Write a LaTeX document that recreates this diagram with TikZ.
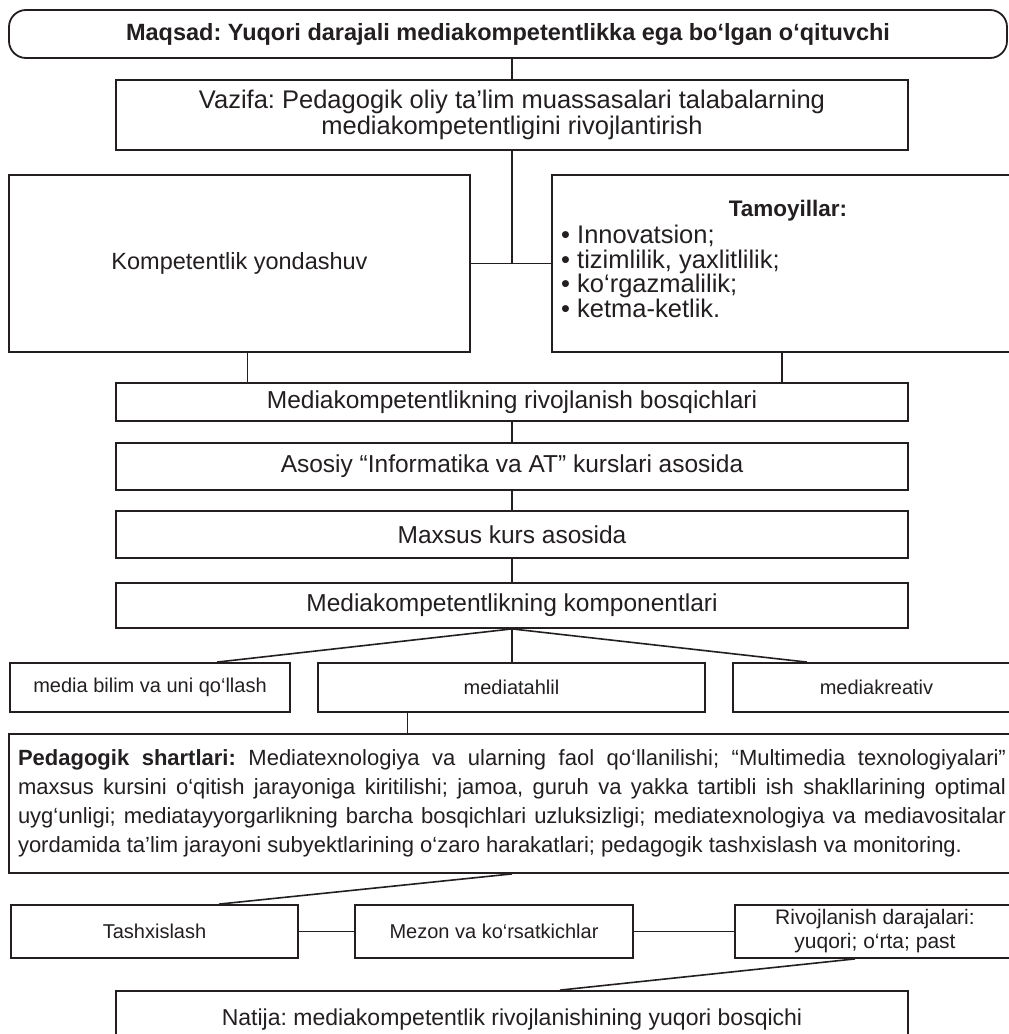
\documentclass[tikz,border=0pt]{standalone}
\usepackage{fontspec}
\setmainfont{Liberation Sans}
\usetikzlibrary{calc}
\newcommand\myfs[2]{\fontsize{#1}{#2}\selectfont}
\definecolor{ink}{HTML}{231F20}
\frenchspacing
\begin{document}
\frenchspacing
\begin{tikzpicture}[x=1pt,y=-1pt,
  box/.style={draw=ink,line width=1.8pt,inner sep=0pt,align=center,text=ink},
  conn/.style={draw=ink,line width=1.6pt}]
\useasboundingbox[fill=white] (0,0) rectangle (1009,1034);
% boxes
\node[box,rounded corners=17pt,minimum width=998pt,minimum height=48pt,font=\bfseries\myfs{23.5}{27}] (top) at (508,34) {Maqsad: Yuqori darajali mediakompetentlikka ega bo‘lgan o‘qituvchi};
\node[box,minimum width=792pt,minimum height=70pt,font=\myfs{25.5}{26.5}] (vaz) at (512,115) {Vazifa: Pedagogik oliy ta’lim muassasalari talabalarning\\mediakompetentligini rivojlantirish};
\node[box,minimum width=461pt,minimum height=177pt,font=\myfs{23.5}{26}] (komp) at (239.5,263.5) {Kompetentlik yondashuv};
\node[box,minimum width=472pt,minimum height=177pt] (tam) at (788,263.5) {};
\node[inner sep=0pt,font=\bfseries\myfs{22.5}{26},text=ink] (tamt) at (788,211) {Tamoyillar:};
\node[inner sep=0pt,anchor=north west,align=left,font=\myfs{25.5}{24.5},text=ink] (tamb) at (561,225) {• Innovatsion;\\• tizimlilik, yaxlitlilik;\\• ko‘rgazmalilik;\\• ketma-ketlik.};
\node[box,minimum width=792pt,minimum height=38pt,font=\myfs{24.5}{27}] (rivoj) at (512,402) {Mediakompetentlikning rivojlanish bosqichlari};
\node[box,minimum width=792pt,minimum height=47pt,font=\myfs{24.5}{27}] (asos) at (512,466.5) {Asosiy “Informatika va AT” kurslari asosida};
\node[box,minimum width=792pt,minimum height=47pt,font=\myfs{24.5}{27}] (maxs) at (512,534.5) {Maxsus kurs asosida};
\node[box,minimum width=792pt,minimum height=45pt,font=\myfs{24.5}{27}] (kompo) at (512,605.5) {Mediakompetentlikning komponentlari};
\node[box,minimum width=280pt,minimum height=49pt,font=\myfs{20}{24}] (media) at (150,687.5) {media bilim va uni qo‘llash};
\node[box,minimum width=387pt,minimum height=49pt,font=\myfs{20}{24}] (tahlil) at (511.5,687.5) {mediatahlil};
\node[box,minimum width=287pt,minimum height=49pt,font=\myfs{20}{24}] (kreat) at (876.5,687.5) {mediakreativ};
\node[box,minimum width=1006pt,minimum height=139pt,font=\myfs{22}{29}] (pedag) at (512,803.5) {%
\makebox[988pt][s]{\textbf{Pedagogik shartlari:} Mediatexnologiya va ularning faol qo‘llanilishi; “Multimedia texnologiyalari”}\\
\makebox[988pt][s]{maxsus kursini o‘qitish jarayoniga kiritilishi; jamoa, guruh va yakka tartibli ish shakllarining optimal}\\
\makebox[988pt][s]{uyg‘unligi; mediatayyorgarlikning barcha bosqichlari uzluksizligi; mediatexnologiya va mediavositalar}\\
\makebox[988pt][l]{yordamida ta’lim jarayoni subyektlarining o‘zaro harakatlari; pedagogik tashxislash va monitoring.}};
\node[box,minimum width=287pt,minimum height=53pt,font=\myfs{20}{24}] (tash) at (154.5,931.5) {Tashxislash};
\node[box,minimum width=278pt,minimum height=53pt,font=\myfs{20}{24}] (mezon) at (494,931.5) {Mezon va ko‘rsatkichlar};
\node[box,minimum width=280pt,minimum height=53pt,font=\myfs{21}{24}] (rivd) at (875,931.5) {Rivojlanish darajalari:\\yuqori; o‘rta; past};
\node[box,minimum width=792pt,minimum height=58pt,font=\myfs{23}{27}] (nat) at (512,1020) {Natija: mediakompetentlik rivojlanishining yuqori bosqichi};
% connectors
\draw[conn] (vaz.north) -- (vaz.north |- top.south);
\draw[conn] (vaz.south) -- (vaz.south |- komp.east);
\draw[conn] (komp.east) -- (tam.west);
\draw[conn] ([xshift=8pt]komp.south) -- ([xshift=8pt]komp.south |- rivoj.north);
\draw[conn] ([xshift=-6pt]tam.south) -- ([xshift=-6pt]tam.south |- rivoj.north);
\draw[conn] (rivoj.south) -- (asos.north);
\draw[conn] (asos.south) -- (maxs.north);
\draw[conn] (maxs.south) -- (kompo.north);
\draw[conn] (kompo.south) -- ([xshift=67pt]media.north);
\draw[conn] (kompo.south) -- (kompo.south |- tahlil.north);
\draw[conn] (kompo.south) -- ([xshift=-69.5pt]kreat.north);
\draw[conn] ([xshift=-104pt]tahlil.south) -- ([xshift=-104pt]tahlil.south |- pedag.north);
\draw[conn] (pedag.south) -- ([xshift=64.5pt]tash.north);
\draw[conn] (tash.east) -- (mezon.west);
\draw[conn] (mezon.east) -- (mezon.east -| rivd.west);
\draw[conn] ([xshift=-20pt]rivd.south) -- ([xshift=48pt]nat.north);
\end{tikzpicture}
\end{document}
